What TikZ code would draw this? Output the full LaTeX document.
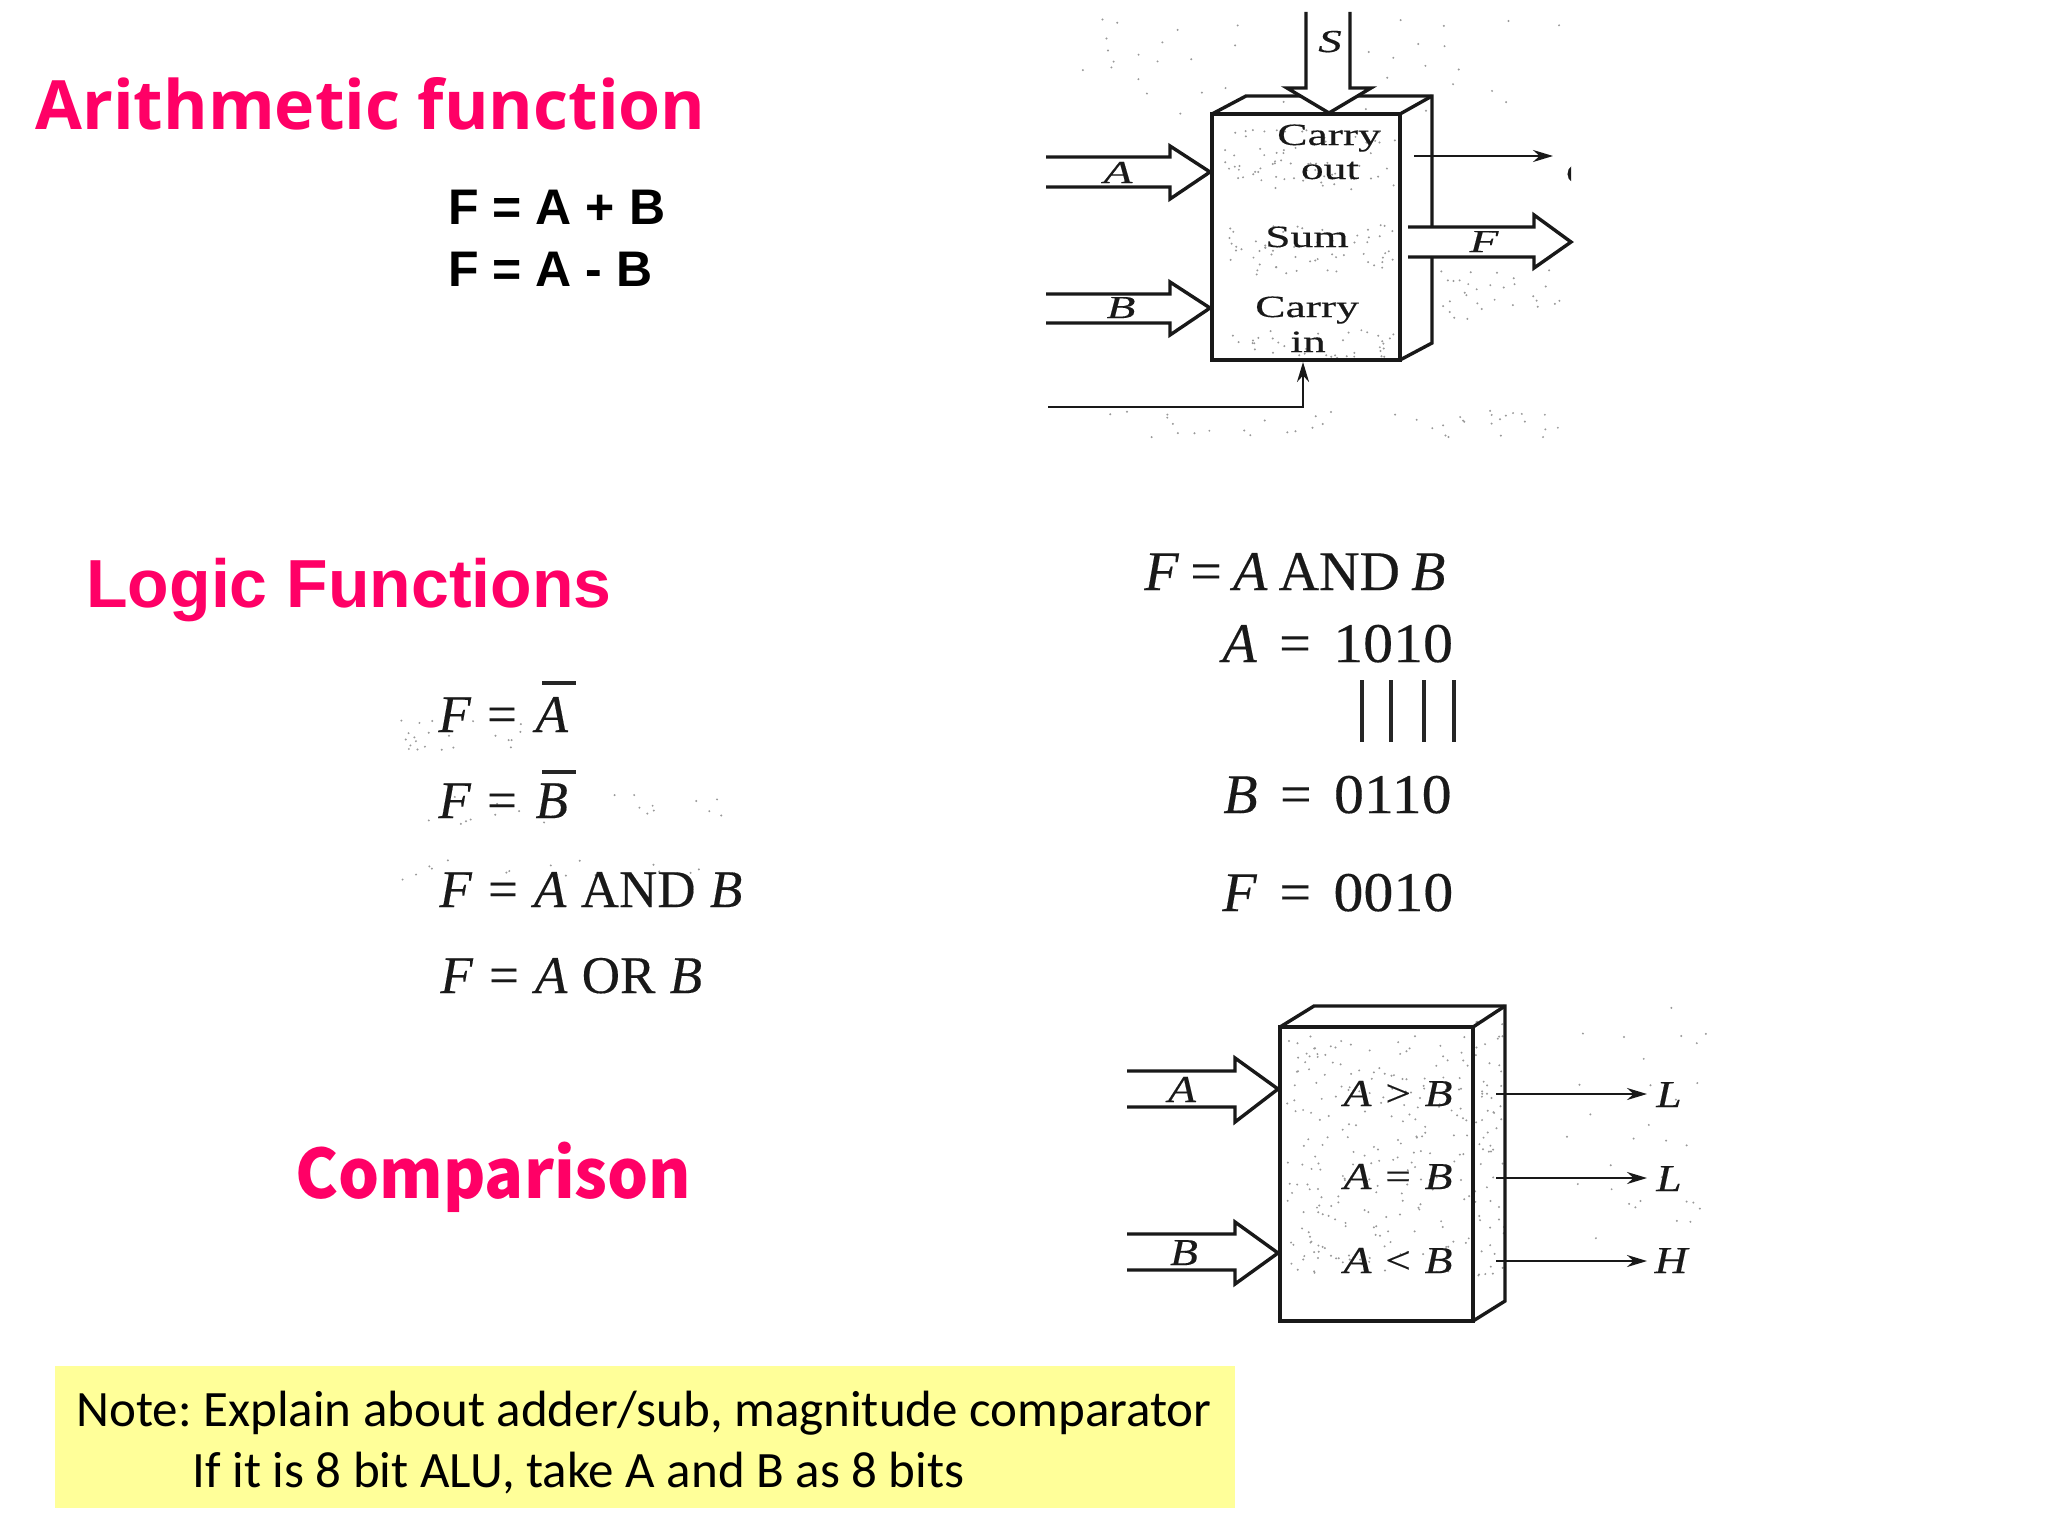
\documentclass[tikz,border=0pt]{standalone}
\usepackage{fontspec}
\setmainfont{Liberation Serif}[FakeBold=0.25]
\newfontfamily\titlefont{Open Sans}
\newfontfamily\cmpfont{Noto Sans CJK JP}
\newfontfamily\lsfont{Liberation Sans}
\newfontfamily\notefont{Carlito}
\usetikzlibrary{arrows.meta}
\definecolor{pinktitle}{HTML}{FF0066}
\definecolor{noteyellow}{HTML}{FFFF99}
\newcommand{\speckle}[5]{%
  \foreach \i in {1,...,#1}{%
    \pgfmathsetmacro\px{#2+rnd*#4}%
    \pgfmathsetmacro\py{#3+rnd*#5}%
    \fill[black!40] (\px,\py) circle (0.55pt);}}
\tikzset{
  x=0.5pt,y=-0.5pt,
  scanline/.style={draw=black!90,line width=1.7pt,line join=miter},
  thinline/.style={draw=black!90,line width=1.1pt},
  tiparrow/.style={thinline,-{Stealth[length=10pt,width=6pt]}},
  boxlabel/.style={anchor=base,inner sep=0pt,font=\fontsize{15.5}{15.5}\selectfont,transform shape,xscale=1.47,text=black!90},
  ilabel/.style={boxlabel,font=\fontsize{16}{16}\selectfont\itshape},
  cmplabel/.style={anchor=base,inner sep=0pt,font=\fontsize{19}{19}\selectfont\itshape,transform shape,xscale=1.2,text=black!90},
  eqn/.style={anchor=base west,inner sep=0pt,font=\fontsize{26.5}{26.5}\selectfont,text=black!90},
  eqnb/.style={anchor=base west,inner sep=0pt,font=\fontsize{28}{28}\selectfont,text=black!90},
  arith/.style={anchor=base west,inner sep=0pt,font=\fontsize{25}{25}\lsfont\bfseries\selectfont},
  ptitle/.style={anchor=base west,inner sep=0pt,text=pinktitle,font=\fontsize{34}{34}\titlefont\bfseries\selectfont},
  ctitle/.style={anchor=base west,inner sep=0pt,text=pinktitle,font=\fontsize{34}{34}\cmpfont\bfseries\selectfont,transform shape,xscale=0.95},
  ltitle/.style={anchor=base west,inner sep=0pt,text=pinktitle,font=\fontsize{34}{34}\lsfont\bfseries\selectfont},
  notetext/.style={anchor=base west,inner sep=0pt,font=\fontsize{25.5}{25.5}\notefont\frenchspacing\selectfont},
  barstroke/.style={draw=black!85,line width=2pt},
}
\begin{document}
\begin{tikzpicture}
\useasboundingbox (0,0) rectangle (2048,1536);
\fill[white] (0,0) rectangle (2048,1536);
\pgfmathsetseed{4242}
% scan speckle
\speckle{70}{1225}{130}{170}{60}
\speckle{60}{1225}{225}{170}{50}
\speckle{40}{1225}{330}{170}{28}
\speckle{40}{1080}{15}{480}{100}
\speckle{40}{1080}{410}{480}{30}
\speckle{30}{1440}{270}{120}{50}
\speckle{230}{1285}{1035}{185}{240}
\speckle{60}{1475}{1020}{30}{270}
\speckle{30}{1560}{1000}{150}{240}
\speckle{22}{395}{720}{130}{30}
\speckle{20}{395}{795}{340}{30}
\speckle{15}{400}{860}{340}{20}
% titles
\node[ptitle] (t1) at (35,129) {Arithmetic function};
\node[ltitle] (t2) at (86,607) {Logic Functions};
\node[ctitle] (t3) at (295,1198) {Comparison};
\node[arith] (a1) at (448,224) {F = A + B};
\node[arith] (a2) at (448,286) {F = A - B};
% ALU block
\draw[scanline] (1212,114) rectangle (1400,360);
\draw[scanline] (1212,114) -- (1246,96) -- (1432,96) -- (1432,227);
\draw[scanline] (1432,257) -- (1432,343) -- (1400,360);
\draw[scanline] (1400,114) -- (1432,96);
% S arrow
\draw[scanline,fill=white] (1306,12) -- (1306,88) -- (1287,88) -- (1329,113) -- (1371,88) -- (1350,88) -- (1350,12);
% A, B, F buses
\draw[scanline] (1046,157) -- (1170,157) -- (1170,146) -- (1210,172) -- (1170,199) -- (1170,187) -- (1046,187);
\draw[scanline] (1046,294) -- (1170,294) -- (1170,282) -- (1210,308) -- (1170,335) -- (1170,323) -- (1046,323);
\draw[scanline] (1408,227) -- (1534,227) -- (1534,215) -- (1571,242) -- (1534,268) -- (1534,257) -- (1408,257);
% carry lines
\coordinate (ci0) at (1048,407);
\coordinate (ci1) at (1303,362);
\draw[tiparrow] (ci0) -| (ci1);
\coordinate (co0) at (1414,156);
\coordinate (co1) at (1553,156);
\draw[tiparrow] (co0) -- (co1);
% block labels
\node[ilabel] (ls) at (1330,52) {S};
\node[boxlabel] (l1) at (1329,145) {Carry};
\node[boxlabel] (l2) at (1330,179) {out};
\node[boxlabel] (l3) at (1307,247) {Sum};
\node[boxlabel] (l4) at (1307,317) {Carry};
\node[boxlabel] (l5) at (1308,352) {in};
\node[ilabel] (la) at (1118,183) {A};
\node[ilabel] (lb) at (1121,318) {B};
\node[ilabel] (lf) at (1484,252) {F};
\begin{scope}
\clip (1555,140) rectangle (1571,200);
\node[boxlabel] (lc) at (1581,184) {C};
\end{scope}
% logic functions
\node[eqn] (e1) at (438,732) {\textit{F}\hspace{.3em}=\hspace{.35em}\textit{A}};
\node[eqn] (e2) at (438,818) {\textit{F}\hspace{.3em}=\hspace{.35em}\textit{B}};
\node[eqn] (e3) at (439,907) {\textit{F}\hspace{.3em}=\hspace{.3em}\textit{A}\hspace{.27em}AND\hspace{.27em}\textit{B}};
\node[eqn] (e4) at (440,993) {\textit{F}\hspace{.3em}=\hspace{.3em}\textit{A}\hspace{.27em}OR\hspace{.27em}\textit{B}};
\draw[barstroke] (542,683) -- (576,683);
\draw[barstroke] (542,772) -- (576,772);
% worked example
\node[eqnb] (w1) at (1144,590) {\textit{F}\hspace{.2em}=\hspace{.2em}\textit{A}\hspace{.2em}AND\hspace{.2em}\textit{B}};
\node[eqnb] (w2) at (1222,662) {\textit{A}\hspace{.4em}=\hspace{.4em}\scalebox{1.07}[1]{1010}};
\node[eqnb] (w3) at (1223,813) {\textit{B}\hspace{.4em}=\hspace{.4em}\scalebox{1.07}[1]{0110}};
\node[eqnb] (w4) at (1222,911) {\textit{F}\hspace{.4em}=\hspace{.4em}\scalebox{1.07}[1]{0010}};
\foreach \x in {1362,1391,1424,1454} \draw[black!85,line width=2.2pt] (\x,680) -- (\x,742);
% comparator block
\draw[scanline] (1280,1027) rectangle (1473,1321);
\draw[scanline] (1280,1027) -- (1314,1006) -- (1505,1006) -- (1505,1301) -- (1473,1321);
\draw[scanline] (1473,1027) -- (1505,1006);
\draw[scanline] (1127,1071) -- (1235,1071) -- (1235,1058) -- (1278,1089) -- (1235,1122) -- (1235,1107) -- (1127,1107);
\draw[scanline] (1127,1234) -- (1235,1234) -- (1235,1222) -- (1278,1253) -- (1235,1284) -- (1235,1270) -- (1127,1270);
\node[cmplabel] (c1) at (1398,1106) {A\hspace{.3em}\textup{>}\hspace{.3em}B};
\node[cmplabel] (c2) at (1398,1189) {A\hspace{.3em}\textup{=}\hspace{.3em}B};
\node[cmplabel] (c3) at (1398,1273) {A\hspace{.3em}\textup{<}\hspace{.3em}B};
\node[cmplabel] (ca) at (1182,1102) {A};
\node[cmplabel] (cb) at (1184,1265) {B};
\node[cmplabel] (o1) at (1669,1107) {L};
\node[cmplabel] (o2) at (1669,1191) {L};
\node[cmplabel] (o3) at (1671,1273) {H};
\coordinate (s1) at (1496,1094);
\coordinate (s2) at (1496,1178);
\coordinate (s3) at (1496,1261);
\coordinate (d1) at (1647,1094);
\coordinate (d2) at (1647,1178);
\coordinate (d3) at (1647,1261);
\draw[tiparrow] (s1) -- (d1);
\draw[tiparrow] (s2) -- (d2);
\draw[tiparrow] (s3) -- (d3);
% note
\fill[noteyellow] (55,1366) rectangle (1235,1508);
\node[notetext] (n1) at (76,1426) {Note: Explain about adder/sub, magnitude comparator};
\node[notetext] (n2) at (192,1487) {If it is 8 bit ALU, take A and B as 8 bits};
\end{tikzpicture}
\end{document}
